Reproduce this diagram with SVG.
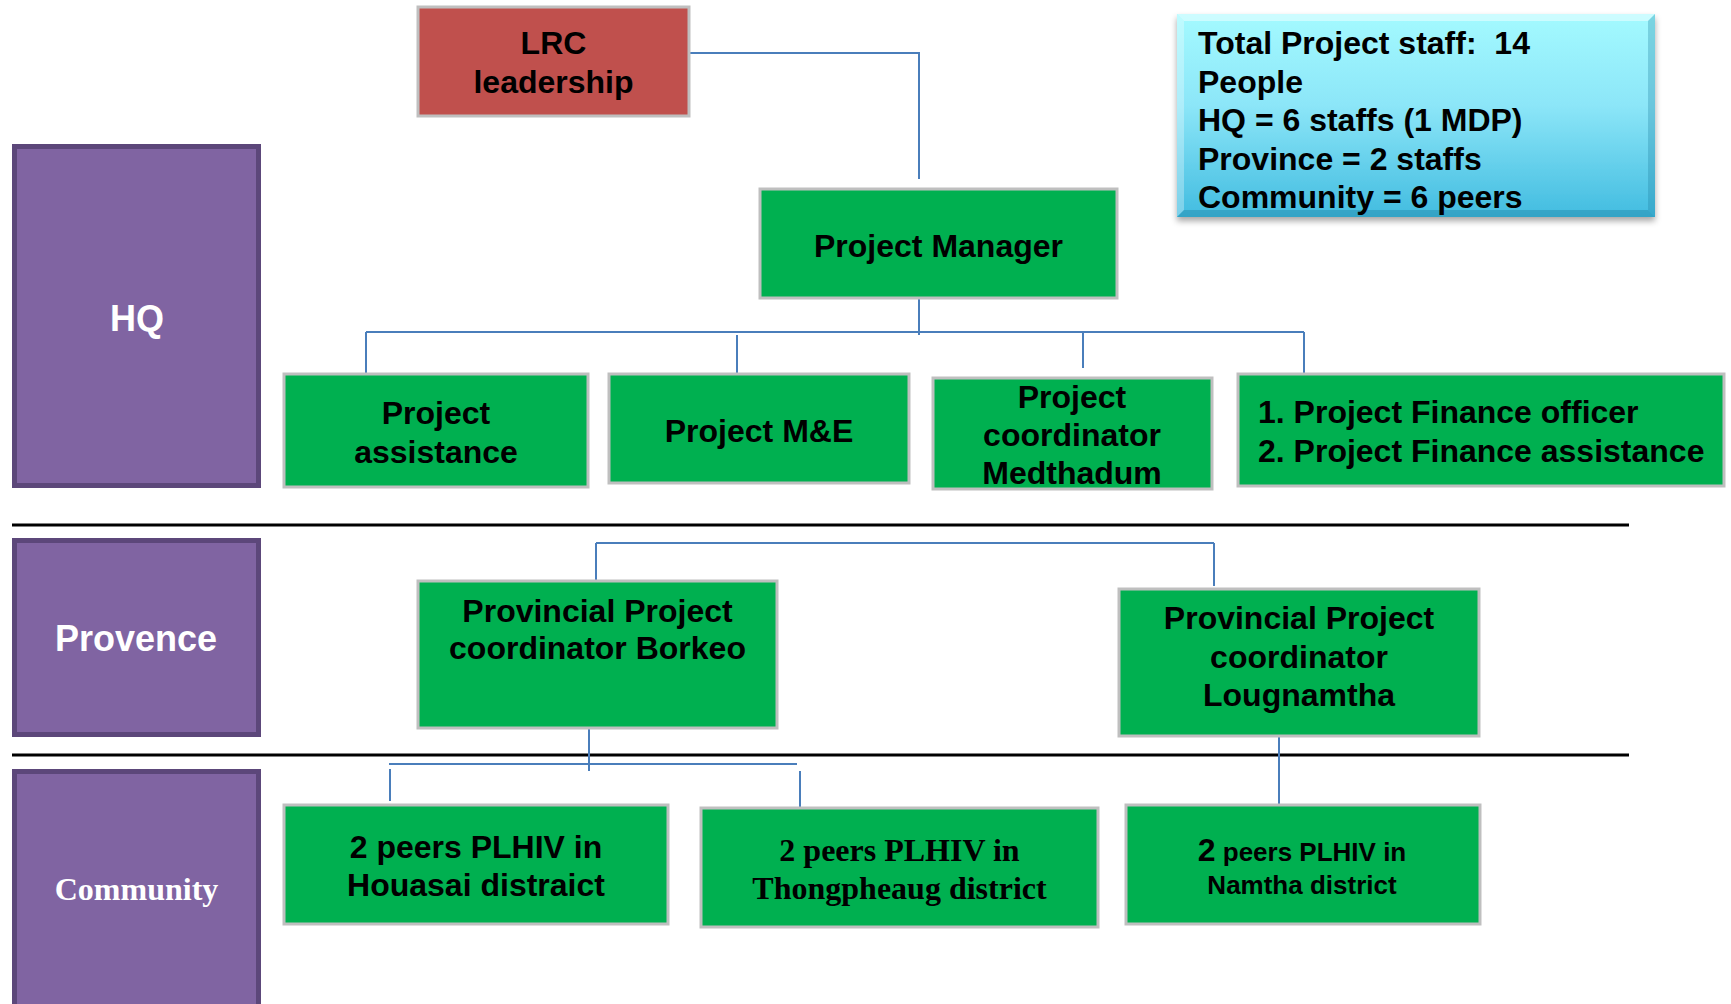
<svg xmlns="http://www.w3.org/2000/svg" width="1731" height="1004" viewBox="0 0 1731 1004">
<defs>
<linearGradient id="info" x1="0" y1="0" x2="0" y2="1">
<stop offset="0" stop-color="#A4FAFF"/>
<stop offset="0.45" stop-color="#8CE6F8"/>
<stop offset="1" stop-color="#42BCE0"/>
</linearGradient>
<filter id="sh" x="-10%" y="-10%" width="120%" height="130%">
<feDropShadow dx="0" dy="4" stdDeviation="3" flood-color="#000" flood-opacity="0.35"/>
</filter>
</defs>
<style>
.g{fill:#00B050;stroke:#BFBFBF;stroke-width:3}
.p{fill:#8064A2;stroke:#5C477A;stroke-width:5}
.t{font-family:"Liberation Sans",Arial,sans-serif;font-weight:bold;font-size:32px;fill:#000;text-anchor:middle}
.s{font-family:"Liberation Serif","Times New Roman",serif;font-weight:bold;font-size:32px;fill:#000;text-anchor:middle}
.w{fill:#fff}
.c{fill:none;stroke:#4A7EBB;stroke-width:2}
.b{fill:none;stroke:#000;stroke-width:3}
</style>
<rect width="1731" height="1004" fill="#fff"/>
<g id="separators">
<path class="b" d="M12,525 H1629 M12,755 H1629"/>
</g>
<g id="connectors">
<path class="c" d="M690,53 H919 V179"/>
<path class="c" d="M919,299 V335"/>
<path class="c" d="M366,332 H1304"/>
<path class="c" d="M366,332 V373 M737,335 V373 M1083,332 V368 M1304,332 V373"/>
<path class="c" d="M596,543 H1214 M596,543 V580 M1214,543 V586"/>
<path class="c" d="M589,729 V771"/>
<path class="c" d="M389,764 H797 M390,769 V801 M800,771 V807"/>
<path class="c" d="M1279,737 V804"/>
</g>
<g id="lrc">
<rect x="418" y="7" width="271" height="109" fill="#C0504D" stroke="#BFBFBF" stroke-width="3"/>
<text class="t" x="553.5" y="54">LRC</text>
<text class="t" x="553.5" y="93">leadership</text>
</g>
<g id="info-box">
<rect x="1177" y="14" width="478" height="203" fill="url(#info)" filter="url(#sh)"/>
<polygon points="1177,14 1655,14 1648,21 1184,21" fill="#fff" opacity="0.45"/>
<polygon points="1177,14 1184,21 1184,210 1177,217" fill="#fff" opacity="0.3"/>
<polygon points="1655,14 1655,217 1648,210 1648,21" fill="#1E7FA0" opacity="0.3"/>
<polygon points="1177,217 1655,217 1648,210 1184,210" fill="#1E7FA0" opacity="0.4"/>
<text class="t" style="text-anchor:start;white-space:pre" x="1198" y="54">Total Project staff:  14</text>
<text class="t" style="text-anchor:start" x="1198" y="93">People</text>
<text class="t" style="text-anchor:start" x="1198" y="131">HQ = 6 staffs (1 MDP)</text>
<text class="t" style="text-anchor:start" x="1198" y="170">Province = 2 staffs</text>
<text class="t" style="text-anchor:start" x="1198" y="208">Community = 6 peers</text>
</g>
<g id="hq">
<rect class="p" x="14.5" y="146.5" width="244" height="339"/>
<text class="t w" style="font-size:36px" x="137" y="331">HQ</text>
</g>
<g id="provence">
<rect class="p" x="14.5" y="540.5" width="244" height="194"/>
<text class="t w" style="font-size:36px" x="136" y="651">Provence</text>
</g>
<g id="community">
<rect class="p" x="14.5" y="771.5" width="244" height="245"/>
<text class="s w" x="136.5" y="900">Community</text>
</g>
<g id="project-manager">
<rect class="g" x="760" y="189" width="357" height="109"/>
<text class="t" x="938.5" y="257">Project Manager</text>
</g>
<g id="project-assistance">
<rect class="g" x="284" y="374" width="304" height="113"/>
<text class="t" x="436" y="424">Project</text>
<text class="t" x="436" y="463">assistance</text>
</g>
<g id="project-me">
<rect class="g" x="609" y="374" width="300" height="109"/>
<text class="t" x="759" y="442">Project M&amp;E</text>
</g>
<g id="project-coordinator">
<rect class="g" x="933" y="378" width="279" height="111"/>
<text class="t" x="1072" y="408">Project</text>
<text class="t" x="1072" y="446">coordinator</text>
<text class="t" x="1072" y="484">Medthadum</text>
</g>
<g id="finance">
<rect class="g" x="1238" y="374" width="486" height="112"/>
<text class="t" style="text-anchor:start" x="1258" y="423">1. Project Finance officer</text>
<text class="t" style="text-anchor:start" x="1258" y="462">2. Project Finance assistance</text>
</g>
<g id="borkeo">
<rect class="g" x="418" y="581" width="359" height="147"/>
<text class="t" x="597.5" y="622">Provincial Project</text>
<text class="t" x="597.5" y="659">coordinator Borkeo</text>
</g>
<g id="lougnamtha">
<rect class="g" x="1119" y="589" width="360" height="147"/>
<text class="t" x="1299" y="629">Provincial Project</text>
<text class="t" x="1299" y="668">coordinator</text>
<text class="t" x="1299" y="706">Lougnamtha</text>
</g>
<g id="houasai">
<rect class="g" x="284" y="805" width="384" height="119"/>
<text class="t" x="476" y="858">2 peers PLHIV in</text>
<text class="t" x="476" y="896">Houasai distraict</text>
</g>
<g id="thongpheaug">
<rect class="g" x="701" y="808" width="397" height="119"/>
<text class="s" x="899.5" y="861">2 peers PLHIV in</text>
<text class="s" x="899.5" y="899">Thongpheaug district</text>
</g>
<g id="namtha">
<rect class="g" x="1126" y="805" width="354" height="119"/>
<text class="t" x="1302" y="861">2<tspan style="font-size:26px"> peers PLHIV in</tspan></text>
<text class="t" style="font-size:26px" x="1302" y="894">Namtha district</text>
</g>
</svg>
